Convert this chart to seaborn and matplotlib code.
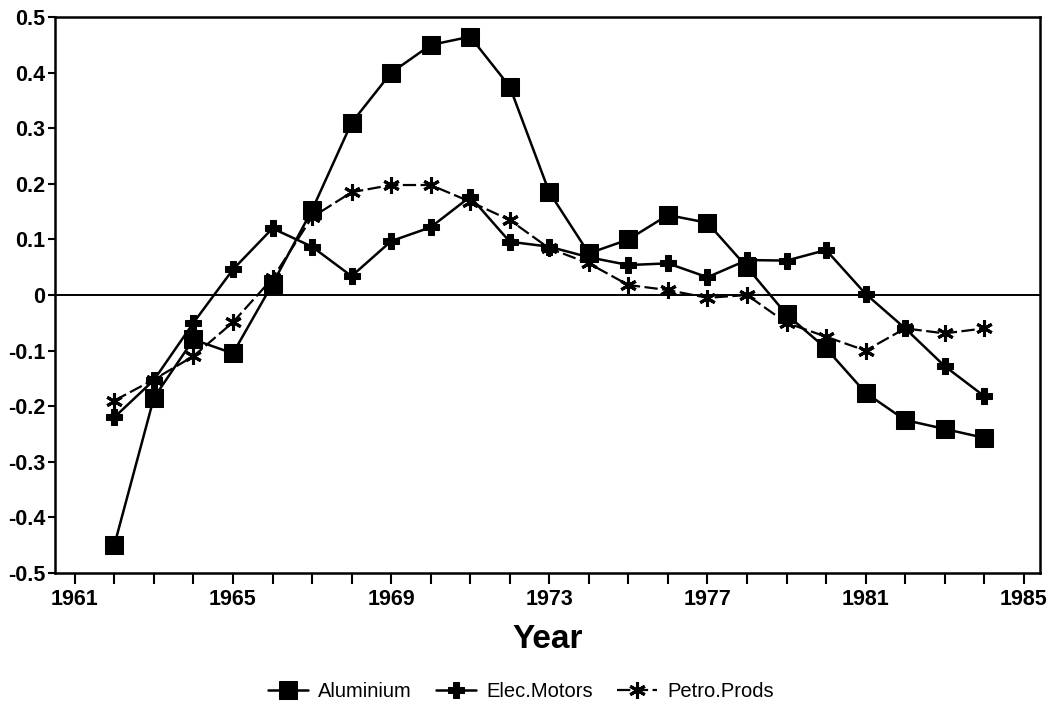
import numpy as np
import pandas as pd
import matplotlib
matplotlib.use('Agg')
import matplotlib.pyplot as plt
from matplotlib.ticker import MultipleLocator, FuncFormatter
import seaborn as sns

# values, one point per year 1962-1984
years = list(range(1962, 1985))

aluminium = [-0.45, -0.185, -0.08, -0.105, 0.02, 0.153, 0.31, 0.40, 0.45, 0.465,
             0.375, 0.185, 0.075, 0.10, 0.144, 0.13, 0.05, -0.035, -0.096, -0.176,
             -0.225, -0.241, -0.257]

elec_motors = [-0.22, -0.153, -0.05, 0.046, 0.12, 0.087, 0.034, 0.097, 0.122, 0.177,
               0.096, 0.087, 0.068, 0.054, 0.057, 0.032, 0.063, 0.062, 0.081, 0.002,
               -0.06, -0.128, -0.182]

petro_prods = [-0.19, -0.152, -0.11, -0.049, 0.03, 0.14, 0.185, 0.198, 0.198, 0.168,
               0.135, 0.084, 0.057, 0.018, 0.009, -0.005, 0.0, -0.05, -0.075, -0.1,
               -0.06, -0.069, -0.06]

sns.set_style('ticks')
plt.rcParams['font.family'] = ['Liberation Sans', 'DejaVu Sans']
plt.rcParams['text.color'] = 'black'
plt.rcParams['axes.labelcolor'] = 'black'
plt.rcParams['xtick.color'] = 'black'
plt.rcParams['ytick.color'] = 'black'

fig = plt.figure(figsize=(10.48, 7.17), dpi=100)
ax = fig.add_axes([0.0525, 0.201, 0.9395, 0.775])

ax.axhline(0, color='black', lw=1.4, zorder=1)

sns.lineplot(x=years, y=aluminium, ax=ax, color='black', lw=1.8,
             marker='s', markersize=13, markeredgecolor='black',
             markerfacecolor='black', label='Aluminium')
sns.lineplot(x=years, y=elec_motors, ax=ax, color='black', lw=1.8,
             marker='P', markersize=11, markeredgecolor='black',
             markerfacecolor='black', label='Elec.Motors')
sns.lineplot(x=years, y=petro_prods, ax=ax, color='black', lw=1.6,
             linestyle=(0, (6, 2)),
             marker=(6, 2, 0), markersize=12, markeredgewidth=2.2,
             markeredgecolor='black', label='Petro.Prods')

ax.set_xlim(1960.5, 1985.4)
ax.set_ylim(-0.5, 0.5)
ax.xaxis.set_major_locator(MultipleLocator(4, offset=1))
ax.xaxis.set_minor_locator(MultipleLocator(1))
ax.yaxis.set_major_locator(MultipleLocator(0.1))
ax.yaxis.set_major_formatter(FuncFormatter(lambda v, p: f'{round(v, 1):g}'))

ax.tick_params(axis='x', which='both', direction='out', length=8, width=1.5)
ax.tick_params(axis='y', which='major', direction='out', length=5, width=1.5, pad=2)
ax.tick_params(labelsize=15.5)
for lab in ax.get_xticklabels() + ax.get_yticklabels():
    lab.set_fontweight('bold')

for s in ax.spines.values():
    s.set_visible(True)
    s.set_linewidth(1.8)
    s.set_color('black')

ax.set_xlabel('Year', fontsize=24, fontweight='bold', labelpad=10)
ax.set_ylabel('')

ax.legend(loc='center', bbox_to_anchor=(0.497, 0.035), bbox_transform=fig.transFigure,
          ncol=3, frameon=False, fontsize=14.5, handlelength=2.0, columnspacing=1.2,
          handletextpad=0.5)

fig.savefig('out.png', dpi=100, facecolor='white')
